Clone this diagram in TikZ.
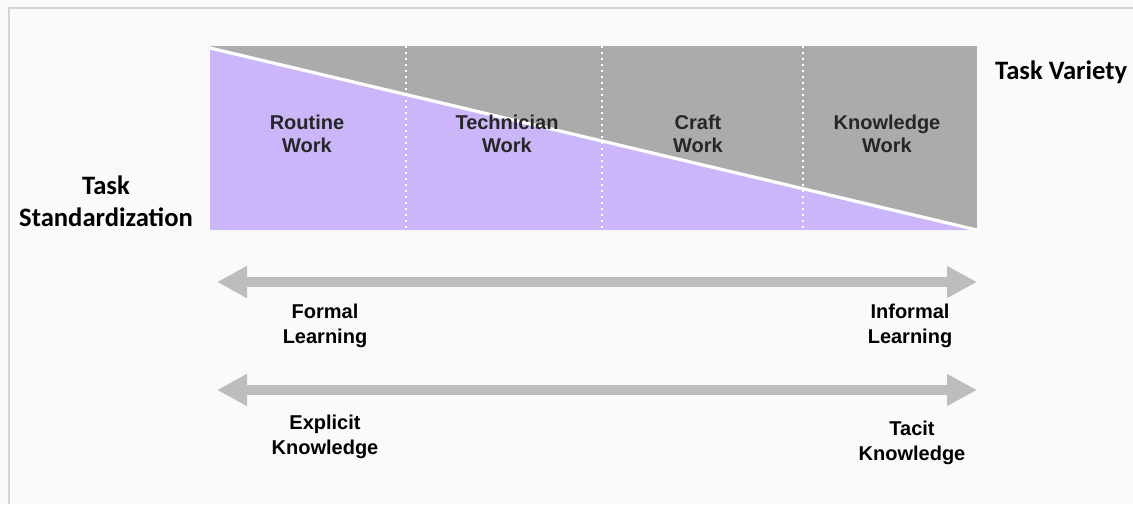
\documentclass[tikz,border=0pt]{standalone}
\usepackage{fontspec}
\setmainfont{Liberation Sans}
\newfontfamily\calibri{Carlito}
\usepackage{tikz}
\usetikzlibrary{arrows.meta,positioning}

\definecolor{routinepurple}{HTML}{CAB6F8}
\definecolor{varietygray}{HTML}{ABABAB}
\definecolor{spreadgray}{HTML}{BDBDBD}
\definecolor{framegray}{HTML}{D4D4D4}
\definecolor{paper}{HTML}{FAFAFA}

\begin{document}
\begin{tikzpicture}[x=0.5pt, y=-0.5pt]
    \tikzstyle{worklabel}=[font=\bfseries\fontsize{10}{11.5}\selectfont, text=black!85, align=center]
    \tikzstyle{sidelabel}=[font=\calibri\bfseries\fontsize{13.3}{16}\selectfont, align=center]
    \tikzstyle{endlabel}=[font=\bfseries\fontsize{10}{12.5}\selectfont, align=center]
    \tikzstyle{spread}=[spreadgray, line width=5pt, {Triangle[length=15pt,width=15pt]}-{Triangle[length=15pt,width=15pt]}]

    \useasboundingbox (0,0) rectangle (1133,504);
    \fill[paper] (0,0) rectangle (1133,504);
    \draw[framegray, line width=1pt] (9,504) |- (1133,8);

    % the band: variety on top, standardization below the diagonal
    \fill[varietygray] (210,46) rectangle (977,230);
    \fill[routinepurple] (210,48) -- (977,230) -- (210,230) -- cycle;
    \draw[white, line width=1.6pt] (210,48) -- (977,230);
    \foreach \x in {406,602,803}
        \draw[white, line width=1pt, dotted] (\x,46) -- (\x,230);

    \node[worklabel] (routine) at (307,134) {Routine\\Work};
    \node[worklabel] (technician) at (507,134) {Technician\\Work};
    \node[worklabel] (craft) at (698,134) {Craft\\Work};
    \node[worklabel] (knowledge) at (887,134) {Knowledge\\Work};

    \node[sidelabel] (standard) at (106,201) {Task\\Standardization};
    \node[sidelabel, anchor=west] (variety) at (988,72) {Task Variety};

    % the two spreads underneath
    \coordinate (learnL) at (217,282);
    \coordinate (learnR) at (977,282);
    \coordinate (knowL) at (217,390);
    \coordinate (knowR) at (977,390);
    \draw[spread] (learnL) -- (learnR);
    \draw[spread] (knowL) -- (knowR);

    \node[endlabel] (formal) at (325,326) {Formal\\Learning};
    \node[endlabel] (informal) at (910,326) {Informal\\Learning};
    \node[endlabel] (explicit) at (325,437) {Explicit\\Knowledge};
    \node[endlabel] (tacit) at (912,443) {Tacit\\Knowledge};
\end{tikzpicture}
\end{document}
